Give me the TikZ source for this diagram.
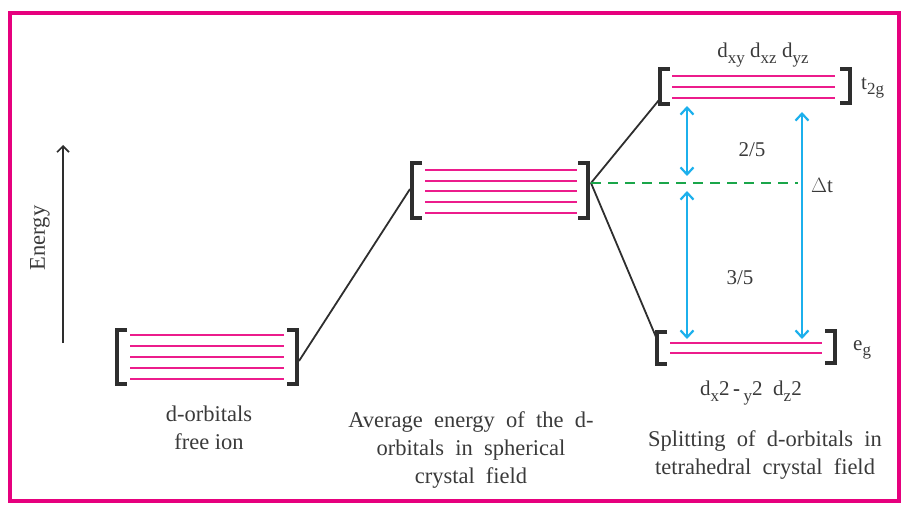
\documentclass[tikz,border=0pt]{standalone}
\usepackage{fontspec}
\setmainfont{Liberation Serif}
\usetikzlibrary{arrows.meta}
\definecolor{framepink}{HTML}{E6007E}
\definecolor{orbpink}{HTML}{EC1C8C}
\definecolor{brkgray}{HTML}{2E2E2E}
\definecolor{arrblue}{HTML}{1CB0EC}
\definecolor{dashgreen}{HTML}{1AA64A}
\definecolor{txtgray}{HTML}{3A3A3A}
% lowered index set almost at full size
\newcommand{\lowidx}[1]{\raisebox{-0.55ex}{\fontsize{17}{17}\selectfont #1}}
\begin{document}
\begin{tikzpicture}[x=1pt,y=-1pt,
  orb/.style={draw=orbpink,line width=2.9pt},
  brk/.style={draw=brkgray,line width=3.6pt,line join=miter},
  link/.style={draw=brkgray,line width=1.8pt},
  split/.style={draw=arrblue,line width=2.2pt,{Straight Barb[length=7pt,width=13pt,line width=2.2pt]}-{Straight Barb[length=7pt,width=13pt,line width=2.2pt]}},
  bary/.style={draw=dashgreen,line width=2pt,dash pattern=on 10pt off 7pt},
  lbl/.style={font=\fontsize{22.5}{28}\selectfont,text=txtgray,align=center,inner sep=0pt},
  sym/.style={font=\fontsize{21}{22}\selectfont,text=txtgray,inner sep=0pt}]
\useasboundingbox (0,0) rectangle (904,505);
% outer frame
\draw[draw=framepink,line width=4.5pt] (10,13) rectangle (899,501);

% energy axis
\coordinate (eLow) at (63,343);
\coordinate (eHigh) at (63,145);
\draw[draw=brkgray,line width=1.6pt,-{Straight Barb[length=6pt,width=12pt,line width=1.6pt]}] (eLow) -- (eHigh);
\node[lbl,rotate=90] (energy) at (40,238) {Energy};

% free ion: five degenerate d-orbitals
\foreach \y in {335,346,357,368,379} \draw[orb] (130,\y) -- (284,\y);
\draw[brk] (127,330) -- (117,330) -- (117,384) -- (127,384);
\draw[brk] (287,330) -- (297,330) -- (297,384) -- (287,384);
\coordinate (freeR) at (299,361);

% spherical field: five raised orbitals
\foreach \y in {170,181,191,202,213} \draw[orb] (425,\y) -- (577,\y);
\draw[brk] (422,163) -- (412,163) -- (412,218) -- (422,218);
\draw[brk] (578,163) -- (588,163) -- (588,218) -- (578,218);
\coordinate (sphL) at (410,189);
\coordinate (sphR) at (591,183);

% t2g set
\foreach \y in {76,87,98} \draw[orb] (672,\y) -- (835,\y);
\draw[brk] (670,69) -- (660,69) -- (660,104) -- (670,104);
\draw[brk] (840,69) -- (850,69) -- (850,103) -- (840,103);
\coordinate (tL) at (659,100);

% eg set
\foreach \y in {343,353} \draw[orb] (670,\y) -- (822,\y);
\draw[brk] (667,332) -- (657,332) -- (657,364) -- (667,364);
\draw[brk] (825,331) -- (835,331) -- (835,363) -- (825,363);
\coordinate (eL) at (656,337);

% correlation lines
\draw[link] (freeR) -- (sphL);
\draw[link] (sphR) -- (tL);
\draw[link] (sphR) -- (eL);

% barycentre
\coordinate (baryEnd) at (798,183);
\draw[bary] (sphR) -- (baryEnd);

% splitting arrows
\coordinate (a1) at (687,106);
\coordinate (a2) at (687,176);
\coordinate (a3) at (687,191);
\coordinate (a4) at (687,339);
\coordinate (b1) at (802,112);
\coordinate (b2) at (802,339);
\draw[split] (a1) -- (a2);
\draw[split] (a3) -- (a4);
\draw[split] (b1) -- (b2);

% labels
\node[sym] (twofifth) at (752,150) {2/5};
\node[sym] (threefifth) at (740,278) {3/5};
\node[sym] (dt) at (822,186) {$\Delta$t};
\node[sym,anchor=west] (tlab) at (861,88) {t\lowidx{2g}};
\node[sym,anchor=west] (elab) at (853,350) {e\lowidx{g}};
\node[sym] (tnames) at (763,55) {d\lowidx{xy} d\lowidx{xz} d\lowidx{yz}};
\node[sym] (enames) at (751,393) {d\lowidx{x}2\,\textbf{-}\,\lowidx{y}2\ \ d\lowidx{z}2};

\node[lbl] (freelab) at (209,428) {d-orbitals\\free ion};
\node[lbl] (sphlab) at (471,450) {Average\ \ energy\ \ of\ \ the\ \ d-\\orbitals\ \ in\ \ spherical\\crystal\ \ field};
\node[lbl] (tetlab) at (765,455) {Splitting\ \ of\ \ d-orbitals\ \ in\\tetrahedral\ \ crystal\ \ field};
\end{tikzpicture}
\end{document}
